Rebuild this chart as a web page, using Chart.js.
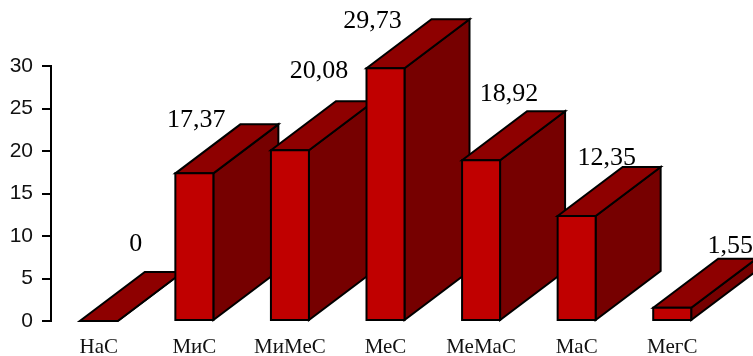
<!DOCTYPE html>
<html>
<head>
<meta charset="utf-8">
<script src="https://cdn.jsdelivr.net/npm/chart.js@4.4.1/dist/chart.umd.min.js"></script>
<style>
  html, body { margin: 0; padding: 0; background: #fff; }
  canvas { display: block; }
</style>
</head>
<body>
<canvas id="chart" width="753" height="356"></canvas>
<script>
const categories = ['НаС', 'МиС', 'МиМеС', 'МеС', 'МеМаС', 'МаС', 'МегС'];
const shares = [0, 17.37, 20.08, 29.73, 18.92, 12.35, 1.55];
const yTicks = [0, 5, 10, 15, 20, 25, 30];

// value label nudges from the top-front centre of each box: [dx, baseline dy]
const labelShift = [[37, -70], [2, -46], [29, -72], [-13, -40], [28, -59], [30, -51], [58, -55]];

const DEPTH_X = 65, DEPTH_Y = 49;
const FRONT = '#c00000', TOP = '#8e0000', SIDE = '#760000';
const SERIF = '"Liberation Serif", "Times New Roman", serif';
const SANS = '"Liberation Sans", Arial, sans-serif';

const fmt = v => Number.isInteger(v) ? String(v) : v.toFixed(2).replace('.', ',');

// draws each bar as a box (side, top, front) left to right, then the values
const boxes3d = {
  id: 'boxes3d',
  afterDatasetsDraw(chart) {
    const ctx = chart.ctx;
    const bars = chart.getDatasetMeta(0).data;
    ctx.save();
    ctx.lineWidth = 2;
    ctx.strokeStyle = '#000';
    ctx.lineJoin = 'miter';
    const face = (pts, fill) => {
      ctx.beginPath();
      ctx.moveTo(pts[0][0], pts[0][1]);
      for (let i = 1; i < pts.length; i++) ctx.lineTo(pts[i][0], pts[i][1]);
      ctx.closePath();
      ctx.fillStyle = fill;
      ctx.fill();
      ctx.stroke();
    };
    bars.forEach(bar => {
      const { x, y, base, width } = bar.getProps(['x', 'y', 'base', 'width'], true);
      const l = x - width / 2, r = x + width / 2;
      face([[r, y], [r + DEPTH_X, y - DEPTH_Y], [r + DEPTH_X, base - DEPTH_Y], [r, base]], SIDE);
      face([[l, y], [l + DEPTH_X, y - DEPTH_Y], [r + DEPTH_X, y - DEPTH_Y], [r, y]], TOP);
      if (base - y > 0.5) face([[l, y], [r, y], [r, base], [l, base]], FRONT);
    });

    ctx.font = '26px ' + SERIF;
    ctx.fillStyle = '#000';
    ctx.textAlign = 'center';
    ctx.textBaseline = 'alphabetic';
    bars.forEach((bar, i) => {
      const [dx, dy] = labelShift[i];
      ctx.fillText(fmt(shares[i]), bar.x + dx, bar.y + dy);
    });
    ctx.restore();
  }
};

new Chart(document.getElementById('chart'), {
  type: 'bar',
  data: {
    labels: categories,
    datasets: [{
      data: shares,
      backgroundColor: 'rgba(0,0,0,0)',
      borderWidth: 0,
      barThickness: 38,
      categoryPercentage: 1
    }]
  },
  options: {
    responsive: false,
    animation: false,
    layout: { padding: { left: 0, right: 33, top: 66, bottom: 0 } },
    plugins: {
      legend: { display: false },
      tooltip: { enabled: false }
    },
    scales: {
      x: {
        grid: { display: false, drawTicks: false },
        border: { display: false },
        ticks: {
          padding: 14,
          color: '#111',
          maxRotation: 0,
          autoSkip: false,
          font: { family: SERIF, size: 21 }
        },
        afterFit(s) { s.height = 35; }
      },
      y: {
        min: 0,
        max: 30,
        afterBuildTicks(s) { s.ticks = yTicks.map(v => ({ value: v })); },
        border: { color: '#000', width: 2 },
        grid: { drawOnChartArea: false, color: '#000', lineWidth: 2, tickLength: 9 },
        ticks: {
          padding: 9,
          color: '#111',
          font: { family: SANS, size: 21 }
        },
        afterFit(s) { s.width = 51; }
      }
    }
  },
  plugins: [boxes3d]
});
</script>
</body>
</html>
